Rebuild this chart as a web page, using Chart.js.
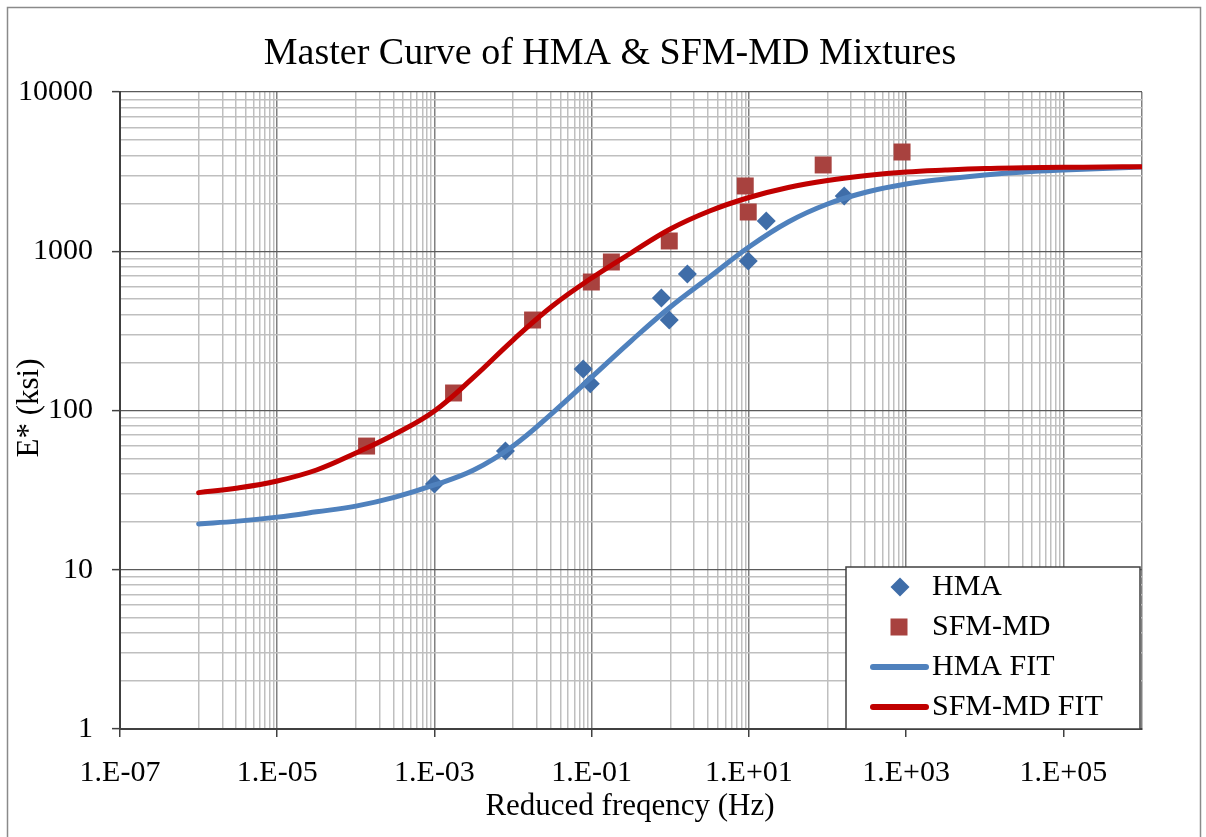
<!DOCTYPE html>
<html>
<head>
<meta charset="utf-8">
<title>Master Curve of HMA &amp; SFM-MD Mixtures</title>
<script src="https://cdn.jsdelivr.net/npm/chart.js@4.4.1/dist/chart.umd.min.js"></script>
<style>
  html, body { margin: 0; padding: 0; background: #fff; }
  #chart { display: block; }
</style>
</head>
<body>
<canvas id="chart" width="1206" height="837"></canvas>
<script>
const chartTitle = "Master Curve of HMA & SFM-MD Mixtures";
const xTitle = "Reduced freqency (Hz)";
const yTitle = "E* (ksi)";

// measured points
const hmaFreq = [0.001, 0.008, 0.078, 0.096, 0.77, 0.97, 1.65, 9.8, 16.6, 163];
const hmaModulus = [34.5, 55.7, 182, 147, 508, 370, 720, 868, 1549, 2223];

const sfmFreq = [0.000137, 0.00175, 0.0177, 0.099, 0.178, 0.97, 8.98, 9.8, 88, 887];
const sfmModulus = [59.8, 128.8, 370, 641, 856, 1160, 2570, 1764, 3482, 4200];

// fitted master curves, every half decade
const fitFreq = [1e-6, 3.16e-6, 1e-5, 3.16e-5, 1e-4, 3.16e-4, 1e-3, 3.16e-3, 1e-2, 3.16e-2,
                 1e-1, 3.16e-1, 1, 3.16, 10, 31.6, 100, 316, 1000, 3160,
                 1e4, 3.16e4, 1e5, 3.16e5, 1e6];
const hmaFit = [19.4, 20.2, 21.4, 23.1, 25.1, 28.6, 34.1, 42.3, 59.9, 96.4,
                162, 273, 447, 689, 1063, 1527, 1980, 2356, 2644, 2843,
                3012, 3145, 3237, 3308, 3381];
const sfmFit = [30.5, 32.6, 36.1, 42.3, 54.1, 71.2, 99.3, 162, 277, 453,
                679, 975, 1379, 1789, 2175, 2514, 2782, 2990, 3145, 3237,
                3308, 3342, 3367, 3381, 3396];

// axes
const xLabelValues = [1e-7, 1e-5, 1e-3, 1e-1, 1e1, 1e3, 1e5];
const xTickLabels = ["1.E-07", "1.E-05", "1.E-03", "1.E-01", "1.E+01", "1.E+03", "1.E+05"];
const xMinorDecades = [1e-6, 1e-4, 1e-2, 1, 1e2, 1e4];
const yLabelValues = [1, 10, 100, 1000, 10000];
const yTickLabels = ["1", "10", "100", "1000", "10000"];

const FONT = '"Liberation Serif", "Times New Roman", serif';

function sameLog(a, b) {
  return Math.abs(Math.log10(a) - Math.log10(b)) < 1e-6;
}
function isXMajor(v) {
  return v !== undefined && (xLabelValues.some(m => sameLog(m, v)) || sameLog(v, 1e6));
}
function isYMajor(v) {
  return v !== undefined && yLabelValues.some(m => sameLog(m, v));
}

const xGrid = xLabelValues.slice();
xMinorDecades.forEach(d => { for (let k = 1; k <= 9; k++) xGrid.push(k * d); });
xGrid.push(1e6);
xGrid.sort((a, b) => a - b);

const yGrid = yLabelValues.slice();
[1, 10, 100, 1000].forEach(d => { for (let k = 2; k <= 9; k++) yGrid.push(k * d); });
yGrid.sort((a, b) => a - b);

const decorations = {
  id: 'decorations',
  beforeDraw(chart) {
    const ctx = chart.ctx;
    ctx.save();
    ctx.fillStyle = '#fff';
    ctx.fillRect(0, 0, chart.width, chart.height);
    ctx.restore();
  },
  afterDraw(chart) {
    const ctx = chart.ctx;
    ctx.save();
    // outer frame
    ctx.strokeStyle = '#8a8a8a';
    ctx.lineWidth = 1.5;
    ctx.strokeRect(7.5, 7.5, 1193, 900);

    // titles
    ctx.fillStyle = '#000';
    ctx.textAlign = 'center';
    ctx.textBaseline = 'alphabetic';
    ctx.font = '38px ' + FONT;
    ctx.fillText(chartTitle, 610, 64);
    ctx.font = '31px ' + FONT;
    ctx.textBaseline = 'middle';
    ctx.fillText(xTitle, 630, 807);
    ctx.save();
    ctx.translate(30, 408);
    ctx.rotate(-Math.PI / 2);
    ctx.fillText(yTitle, 0, 0);
    ctx.restore();

    // legend
    const lx = 846, ly = 567, lw = 294, lh = 162;
    ctx.fillStyle = '#fff';
    ctx.fillRect(lx, ly, lw, lh);
    ctx.strokeStyle = '#404040';
    ctx.lineWidth = 1.5;
    ctx.strokeRect(lx, ly, lw, lh);

    ctx.fillStyle = '#3F6DA8';
    ctx.beginPath();
    ctx.moveTo(900 - 9.5, 587);
    ctx.lineTo(900, 587 - 9.5);
    ctx.lineTo(900 + 9.5, 587);
    ctx.lineTo(900, 587 + 9.5);
    ctx.closePath();
    ctx.fill();

    ctx.fillStyle = '#A8423F';
    ctx.fillRect(899 - 8.5, 627 - 8.5, 17, 17);

    ctx.lineCap = 'round';
    ctx.lineWidth = 6;
    ctx.strokeStyle = '#4F81BD';
    ctx.beginPath(); ctx.moveTo(873, 667); ctx.lineTo(926, 667); ctx.stroke();
    ctx.strokeStyle = '#C00000';
    ctx.beginPath(); ctx.moveTo(873, 707); ctx.lineTo(926, 707); ctx.stroke();

    ctx.fillStyle = '#000';
    ctx.textAlign = 'left';
    ctx.textBaseline = 'middle';
    ctx.font = '30px ' + FONT;
    ctx.fillText('HMA', 932, 587);
    ctx.fillText('SFM-MD', 932, 627);
    ctx.fillText('HMA FIT', 932, 667);
    ctx.fillText('SFM-MD FIT', 932, 707);
    ctx.restore();
  }
};

Chart.defaults.font.family = FONT;
Chart.defaults.color = '#000';

new Chart(document.getElementById('chart'), {
  type: 'scatter',
  data: {
    datasets: [
      {
        label: 'HMA',
        data: hmaFreq.map((x, i) => ({ x: x, y: hmaModulus[i] })),
        pointStyle: 'rectRot',
        pointRadius: 9.5,
        backgroundColor: '#3F6DA8',
        borderColor: '#3F6DA8',
        borderWidth: 0,
        order: 2
      },
      {
        label: 'SFM-MD',
        data: sfmFreq.map((x, i) => ({ x: x, y: sfmModulus[i] })),
        pointStyle: 'rect',
        pointRadius: 12,
        backgroundColor: '#A8423F',
        borderColor: '#A8423F',
        borderWidth: 0,
        order: 2
      },
      {
        label: 'HMA FIT',
        data: fitFreq.map((x, i) => ({ x: x, y: hmaFit[i] })),
        showLine: true,
        pointRadius: 0,
        borderColor: '#4F81BD',
        borderWidth: 5,
        borderCapStyle: 'round',
        tension: 0.4,
        order: 1
      },
      {
        label: 'SFM-MD FIT',
        data: fitFreq.map((x, i) => ({ x: x, y: sfmFit[i] })),
        showLine: true,
        pointRadius: 0,
        borderColor: '#C00000',
        borderWidth: 5,
        borderCapStyle: 'round',
        tension: 0.4,
        order: 0
      }
    ]
  },
  options: {
    responsive: false,
    animation: false,
    events: [],
    layout: { padding: { top: 92, left: 0, right: 64, bottom: 0 } },
    plugins: {
      legend: { display: false },
      title: { display: false },
      tooltip: { enabled: false }
    },
    scales: {
      x: {
        type: 'logarithmic',
        min: 1e-7,
        max: 1e6,
        afterBuildTicks(scale) {
          scale.ticks = xGrid.map(v => ({ value: v }));
        },
        afterFit(scale) {
          scale.height = 108;
        },
        ticks: {
          autoSkip: false,
          maxRotation: 0,
          minRotation: 0,
          padding: 18,
          font: { size: 30 },
          callback(value) {
            const i = xLabelValues.findIndex(v => sameLog(v, value));
            return i >= 0 ? xTickLabels[i] : '';
          }
        },
        grid: {
          color: c => isXMajor(c.tick && c.tick.value) ? '#808080' : '#bfbfbf',
          lineWidth: 1.5,
          tickLength: 8,
          tickWidth: 1.5,
          tickColor: c => (c.tick && xLabelValues.some(m => sameLog(m, c.tick.value))) ? '#404040' : 'rgba(0,0,0,0)'
        },
        border: { display: true, color: '#404040', width: 2 }
      },
      y: {
        type: 'logarithmic',
        min: 1,
        max: 10000,
        afterBuildTicks(scale) {
          scale.ticks = yGrid.map(v => ({ value: v }));
        },
        afterFit(scale) {
          scale.width = 120;
        },
        ticks: {
          autoSkip: false,
          padding: 19,
          font: { size: 30 },
          callback(value) {
            const i = yLabelValues.findIndex(v => sameLog(v, value));
            return i >= 0 ? yTickLabels[i] : '';
          }
        },
        grid: {
          color: c => isYMajor(c.tick && c.tick.value) ? '#5a5a5a' : '#bfbfbf',
          lineWidth: c => isYMajor(c.tick && c.tick.value) ? 1.25 : 1.5,
          tickLength: 8,
          tickWidth: 1.5,
          tickColor: c => isYMajor(c.tick && c.tick.value) ? '#404040' : 'rgba(0,0,0,0)'
        },
        border: { display: true, color: '#404040', width: 2 }
      }
    }
  },
  plugins: [decorations]
});
</script>
</body>
</html>
